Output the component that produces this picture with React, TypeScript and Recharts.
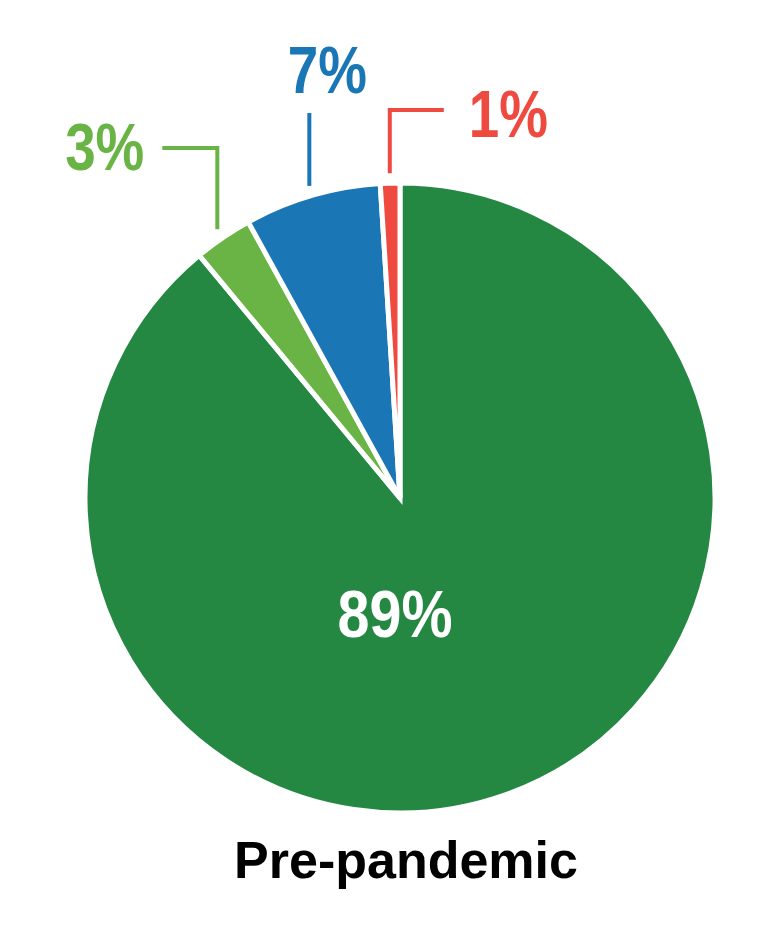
import { PieChart, Pie, Cell } from 'recharts';

// Shares, clockwise from 12 o'clock
const groups = ['Main', 'Second', 'Third', 'Fourth'];
const shares = [89, 3, 7, 1];
const sliceColors = ['#248843', '#69b445', '#1b76b6', '#ef4a40'];
const chartTitle = 'Pre-pandemic';

const data = groups.map((name, i) => ({ name, value: shares[i] }));

const RADIAN = Math.PI / 180;
const NUM_FONT = "'Liberation Sans Narrow', 'Liberation Sans', Arial, sans-serif";
const SQUEEZE = 0.83; // no narrow face installed, so squeeze the bold face

// leader line shapes for the small slices (elbow height + horizontal tail)
const leaders: Record<number, { elbowY: number; tail: number; anchor: 'start' | 'middle' | 'end'; dx: number; dy: number }> = {
  1: { elbowY: 148, tail: -55, anchor: 'end', dx: -73, dy: 22 },
  2: { elbowY: 113, tail: 0, anchor: 'middle', dx: 18, dy: -20 },
  3: { elbowY: 110, tail: 54, anchor: 'start', dx: 79, dy: 27 },
};

const PctText = ({ x, y, color, anchor, squeeze = SQUEEZE, children }: any) => (
  <text
    transform={`translate(${x},${y}) scale(${squeeze},1)`}
    x={0}
    y={0}
    fill={color}
    textAnchor={anchor}
    fontFamily={NUM_FONT}
    fontWeight={700}
    fontSize={66}
  >
    {children}
  </text>
);

const renderLabel = (props: any) => {
  const { cx, cy, midAngle, outerRadius, index, value } = props;
  const color = sliceColors[index];
  if (index === 0) {
    return (
      <PctText x={cx - 5} y={cy + outerRadius * 0.44} color="#fff" anchor="middle" squeeze={0.87}>
        {value}%
      </PctText>
    );
  }
  const cfg = leaders[index];
  const r = outerRadius + 10;
  const x0 = cx + r * Math.cos(-midAngle * RADIAN);
  const y0 = cy + r * Math.sin(-midAngle * RADIAN);
  const path = `M${x0},${y0} L${x0},${cfg.elbowY} L${x0 + cfg.tail},${cfg.elbowY}`;
  return (
    <g>
      <path d={path} stroke={color} strokeWidth={4} fill="none" />
      <PctText x={x0 + cfg.dx} y={cfg.elbowY + cfg.dy} color={color} anchor={cfg.anchor}>
        {value}%
      </PctText>
    </g>
  );
};

export default function App() {
  return (
    <div style={{ position: 'absolute', left: 0, top: 0, width: 765, height: 940, background: '#fff' }}>
      <PieChart width={765} height={940} margin={{ top: 0, right: 0, bottom: 0, left: 0 }}>
        <Pie
          data={data}
          dataKey="value"
          nameKey="name"
          cx={400}
          cy={498}
          outerRadius={315}
          startAngle={90}
          endAngle={-270}
          stroke="#fff"
          strokeWidth={5}
          label={renderLabel}
          labelLine={false}
          isAnimationActive={false}
        >
          {data.map((d, i) => (
            <Cell key={d.name} fill={sliceColors[i]} />
          ))}
        </Pie>
      </PieChart>
      <div
        style={{
          position: 'absolute',
          left: 0,
          width: 812,
          top: 828,
          textAlign: 'center',
          fontFamily: "'Liberation Sans', Arial, sans-serif",
          fontWeight: 700,
          fontSize: 52,
          lineHeight: '64px',
          color: '#000',
        }}
      >
        {chartTitle}
      </div>
    </div>
  );
}
